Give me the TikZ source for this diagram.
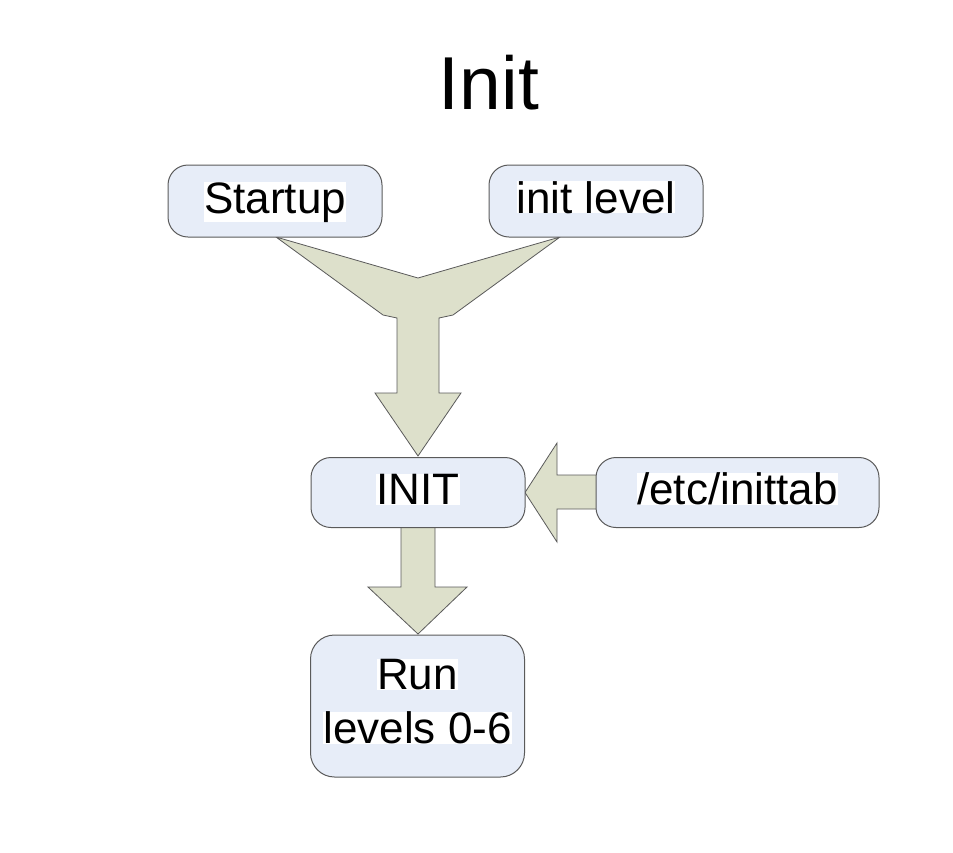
\documentclass[tikz,border=0pt]{standalone}
\usepackage{fontspec}
\setmainfont{Liberation Sans}
\definecolor{boxfill}{RGB}{231,237,248}
\definecolor{arrowfill}{RGB}{221,224,203}
\definecolor{edge}{RGB}{90,90,90}
\newcommand\hlt[1]{{\setlength{\fboxsep}{0pt}\colorbox{white}{#1}}}
\begin{document}
\begin{tikzpicture}[x=1pt,y=-1pt,
  box/.style={draw=edge,line width=1pt,fill=boxfill,rounded corners=20pt,
    inner sep=0pt,align=center,font=\fontsize{44}{54}\selectfont},
  onebox/.style={box,text height=33pt,text depth=9pt},
  blockarrow/.style={draw=edge,line width=0.8pt,fill=arrowfill,line join=miter}]
\useasboundingbox (0,0) rectangle (953,852);
\node[anchor=base,font=\fontsize{75}{80}\selectfont] (title) at (489,109) {Init};
% arrows first (boxes drawn on top)
\coordinate (sT) at (276,237);
\coordinate (iT) at (560,237);
\coordinate (yTip) at (418,456);
\draw[blockarrow] (sT) -- (418,278) -- (iT) -- (453,315) -- (439,318) -- (439,393)
  -- (461,393) -- (yTip) -- (375,393) -- (397,393) -- (397,318) -- (383,315) -- cycle;
\coordinate (lTip) at (525,492.5);
\draw[blockarrow] (lTip) -- (557,443) -- (557,475) -- (600,475) -- (600,509)
  -- (557,509) -- (557,542) -- cycle;
\coordinate (dTip) at (418,634);
\draw[blockarrow] (401,526) -- (435,526) -- (435,587) -- (467,587) -- (dTip)
  -- (368,587) -- (401,587) -- cycle;
% boxes
\node[onebox,minimum width=214pt,minimum height=72pt] (startup) at (275,201) {\hlt{Startup}};
\node[onebox,minimum width=214pt,minimum height=72pt] (initlevel) at (596,201) {\hlt{init level}};
\node[onebox,minimum width=214pt,minimum height=70pt] (init) at (418,492.5) {\hlt{INIT}};
\node[onebox,minimum width=283pt,minimum height=70pt] (inittab) at (737.5,492.5) {\hlt{/etc/inittab}};
\node[box,text depth=9pt,rounded corners=24pt,minimum width=214pt,minimum height=142pt] (run) at (417.5,706) {\hlt{Run}\\\hlt{levels 0-6}};
\end{tikzpicture}
\end{document}
